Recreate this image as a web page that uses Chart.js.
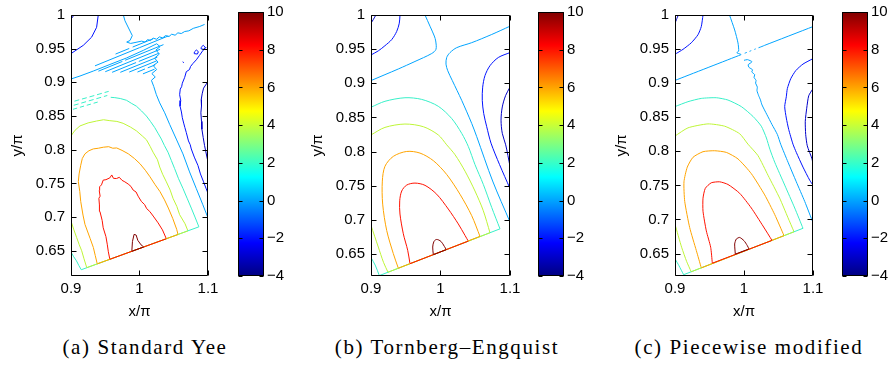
<!DOCTYPE html>
<html>
<head>
<meta charset="utf-8">
<script src="https://cdn.jsdelivr.net/npm/chart.js@4.4.1/dist/chart.umd.min.js"></script>
<style>
  html, body { margin: 0; padding: 0; background: #fff; }
  #page { position: relative; width: 893px; height: 367px; overflow: hidden; }
  #page canvas { position: absolute; top: 0; }
  .cap { position: absolute; top: 335px; line-height: 24px; font-family: "Liberation Serif", "Times New Roman", Times, serif;
         font-size: 21px; letter-spacing: 1.6px; color: #000; white-space: nowrap; transform: translateX(-50%); }
</style>
</head>
<body>
<div id="page">
  <canvas id="plotA" width="230" height="325" style="left:0px"></canvas>
  <canvas id="barA"  width="70"  height="325" style="left:230px"></canvas>
  <canvas id="plotB" width="230" height="325" style="left:300px"></canvas>
  <canvas id="barB"  width="70"  height="325" style="left:530px"></canvas>
  <canvas id="plotC" width="230" height="325" style="left:604px"></canvas>
  <canvas id="barC"  width="59"  height="325" style="left:834px"></canvas>
  <div class="cap" style="left:145px">(a) Standard Yee</div>
  <div class="cap" style="left:447px">(b) Tornberg–Engquist</div>
  <div class="cap" style="left:749px">(c) Piecewise modified</div>
</div>
<script>
// ── axes ───────────────────────────────────────────────────────────
const xTicks   = [0.9, 1, 1.1];
const yTicks   = [0.65, 0.7, 0.75, 0.8, 0.85, 0.9, 0.95, 1];
const barTicks = [-4, -2, 0, 2, 4, 6, 8, 10];
const barRange = [-4, 10];

// jet colormap, position on the bar -> colour
const jetStops = [[0, '#000080'], [0.125, '#0000ff'], [0.375, '#00ffff'],
                  [0.625, '#ffff00'], [0.875, '#ff0000'], [1, '#800000']];
const levelColor = {
  '-3': 'rgb(0,0,200)', '-2': 'rgb(0,18,255)', '0': 'rgb(0,164,255)', '2': 'rgb(55,240,200)',
  '4': 'rgb(190,245,55)', '6': 'rgb(255,164,0)', '8': 'rgb(255,18,0)', '10': 'rgb(128,0,0)'
};

// ── (a) Standard Yee ───────────────────────────────────────────────
const yeeDarkRed = [[0.9888,0.6492],[0.9897,0.6636],[0.9921,0.6743],[0.9951,0.6733],[0.9975,0.6655],[1.0023,0.6587],[1.0062,0.6556]];
const yeeRed = [[0.9567,0.6373],[0.9545,0.6485],[0.9529,0.6597],[0.951,0.671],[0.947,0.6841],[0.9455,0.695],[0.9422,0.7084],
  [0.9415,0.718],[0.9407,0.7279],[0.9425,0.731],[0.9412,0.7395],[0.9418,0.745],[0.9445,0.7478],[0.947,0.7548],[0.951,0.7555],
  [0.9567,0.7582],[0.9595,0.7625],[0.962,0.7575],[0.9664,0.7572],[0.9705,0.759],[0.9745,0.7545],[0.9786,0.7523],[0.9835,0.749],
  [0.9875,0.7455],[0.9907,0.7401],[0.995,0.7372],[0.998,0.731],[1.0028,0.7231],[1.0075,0.7185],[1.0105,0.7125],[1.0149,0.7084],
  [1.02,0.7015],[1.0271,0.6914],[1.0335,0.681],[1.0392,0.6678]];
const yeeOrange = [[0.9383,0.6305],[0.9354,0.643],[0.9326,0.6549],[0.928,0.668],[0.9204,0.6891],[0.9175,0.703],[0.9142,0.7232],
  [0.9128,0.738],[0.9107,0.7525],[0.9118,0.764],[0.9142,0.7769],[0.9165,0.787],[0.9204,0.7939],[0.9262,0.7985],[0.9326,0.8012],
  [0.94,0.8022],[0.9472,0.8037],[0.955,0.8045],[0.961,0.8022],[0.9667,0.8026],[0.9745,0.799],[0.9837,0.7939],[0.9925,0.787],
  [1.0007,0.7792],[1.0085,0.7695],[1.0153,0.7598],[1.0225,0.7485],[1.0299,0.7378],[1.0365,0.7255],[1.0421,0.7134],
  [1.0485,0.698],[1.0543,0.6818],[1.0562,0.6741]];
const yeeYellowLeft = [[0.9,0.694],[0.9042,0.681],[0.9083,0.6695],[0.912,0.659],[0.9156,0.65],[0.919,0.638],[0.923,0.6249]];
const yeeYellow = [[1.0707,0.6795],[1.0665,0.69],[1.0586,0.7035],[1.0545,0.7158],[1.0489,0.7279],[1.0448,0.74],[1.0392,0.7523],
  [1.0338,0.7635],[1.0295,0.7743],[1.0262,0.7852],[1.0198,0.7963],[1.0155,0.805],[1.0101,0.8148],[1.004,0.8205],[0.9955,0.828],
  [0.987,0.8335],[0.9761,0.8392],[0.967,0.842],[0.9567,0.8431],[0.9475,0.8445],[0.9373,0.8426],[0.925,0.8398],[0.9131,0.8353],
  [0.906,0.829],[0.9,0.8206]];
const yeeCyanLeft = [[0.9,0.648],[0.904,0.641],[0.908,0.635],[0.9115,0.628],[0.915,0.6218]];
const yeeCyan = [[1.0867,0.6855],[1.081,0.7],[1.0756,0.7133],[1.0695,0.728],[1.0634,0.7426],[1.057,0.757],[1.0513,0.7719],
  [1.0465,0.784],[1.0416,0.7963],[1.0365,0.806],[1.0319,0.8158],[1.027,0.8245],[1.0222,0.8329],[1.016,0.842],[1.0101,0.85],
  [1.003,0.8575],[0.9955,0.8646],[0.988,0.869],[0.981,0.8734],[0.972,0.876],[0.964,0.8773],[0.958,0.8778]];
const yeeCyanDashes = [[0.905,0.872],[0.912,0.8741],[0.916,null],[0.916,0.8752],[0.923,0.8772],[0.927,null],[0.927,0.8784],[0.934,0.8804],
  [0.938,null],[0.938,0.8816],[0.945,0.8837],[0.949,null],[0.949,0.8849],[0.955,0.8866],[0.9,null],
  [0.904,0.866],[0.911,0.868],[0.915,null],[0.915,0.8692],[0.922,0.8713],[0.926,null],[0.926,0.8725],[0.933,0.8745],[0.937,null],
  [0.937,0.8757],[0.944,0.8778],[0.948,null],[0.948,0.879],[0.953,0.8805],[0.9,null],
  [0.903,0.86],[0.909,0.8618],[0.913,null],[0.913,0.863],[0.919,0.8648],[0.923,null],[0.923,0.866],[0.929,0.8677],[0.933,null],
  [0.933,0.869],[0.939,0.8707]];
const yeeZeroTop = [[0.9764,1.0],[0.9788,0.9914],[0.9847,0.9792],[0.9895,0.9694],[0.9861,0.9621],[0.9813,0.9598],[0.9871,0.9578],
  [1.0032,0.9612],[1.008,0.9598],[1.012,0.9635],[1.016,0.962],[1.02,0.9656],[1.025,0.964],[1.029,0.9675],[1.034,0.966],
  [1.038,0.9695],[1.043,0.968],[1.047,0.9715],[1.052,0.970],[1.056,0.9735],[1.061,0.9725],[1.066,0.9755],[1.072,0.9765],
  [1.0786,0.9802],[1.088,0.983],[1.095,0.986]];
const yeeZeroMain = [[0.9,0.905],[0.9131,0.9094],[0.9326,0.9168],[0.9569,0.9266],[0.9813,0.9363],[1.0056,0.9475],[1.0251,0.9573],
  [1.03,0.953],[1.024,0.948],[1.029,0.942],[1.022,0.936],[1.027,0.93],[1.02,0.925],[1.025,0.919],[1.018,0.913],[1.023,0.908],
  [1.0174,0.903],[1.0208,0.8939],[1.0246,0.8817],[1.0295,0.8695],[1.0368,0.8548],[1.044,0.8377],[1.0537,0.8158],[1.0634,0.7938],
  [1.0731,0.767],[1.0828,0.7426],[1.0925,0.7182],[1.1,0.6987]];
// the numerical ripples of the zero level between the two branches
const yeeStripes = [
  [0.965,0.942],[0.985,0.9503],[0.9,null],[0.99,0.9524],[1.02,0.9648],[0.9,null],
  [0.935,0.9245],[1.0,0.9515],[1.042,0.9689],[0.9,null],
  [0.94,0.9166],[0.975,0.9311],[0.9,null],[0.979,0.9328],[1.035,0.956],[0.9,null],
  [0.95,0.9158],[1.03,0.949],[0.9,null],
  [0.96,0.9149],[0.995,0.9294],[0.9,null],[0.999,0.9311],[1.028,0.9431],[0.9,null],
  [0.972,0.9149],[1.026,0.9373],[0.9,null],
  [0.985,0.9153],[1.025,0.9319],[0.9,null],
  [0.997,0.9153],[1.008,0.9199],[0.9,null],[1.012,0.9215],[1.023,0.926],[0.9,null],
  [1.005,0.9126],[1.022,0.9196]];
const yeeArc = [[0.9398,1.0],[0.9374,0.9817],[0.9301,0.9671],[0.918,0.955],[0.9,0.9427]];
const yeeCorner = [[0.9044,1.0],[0.9,0.9939]];
const yeeBlue = [[1.0974,0.9524],[1.092,0.9465],[1.0877,0.9402],[1.083,0.9335],[1.078,0.928],[1.0745,0.9235],[1.073,0.919],
  [1.0683,0.9158],[1.066,0.9075],[1.0625,0.8987],[1.0615,0.8935],[1.0595,0.89],[1.0586,0.8817],[1.0602,0.873],[1.0592,0.8646],
  [1.0612,0.856],[1.0625,0.8475],[1.0645,0.8395],[1.0662,0.833],[1.0683,0.8255],[1.0715,0.813],[1.074,0.8075],[1.0756,0.8011],
  [1.08,0.789],[1.0853,0.7767],[1.089,0.764],[1.0935,0.7523],[1.097,0.743],[1.1,0.7353]];
const yeeBlueCurls = [[1.08,0.945],[1.083,0.948],[1.086,0.9455],[1.0845,0.942],[1.081,0.9425],[1.08,0.945],[1.0,null],
  [1.09,0.952],[1.093,0.955],[1.096,0.952],[1.094,0.949],[1.091,0.9495],[1.09,0.952],[1.0,null],
  [1.063,0.9305],[1.0648,0.9292]];
const yeeNavy = [[1.1,0.9012],[1.0935,0.8914],[1.0915,0.883],[1.0901,0.8743],[1.0905,0.865],[1.0896,0.8548],[1.0905,0.842],
  [1.0911,0.8304],[1.093,0.818],[1.095,0.806],[1.1,0.7816]];
const yeeEdges = [
  [10, [[0.9888,0.6492],[1.0062,0.6556]]],
  [8,  [[0.9567,0.6373],[1.0392,0.6678]]],
  [6,  [[0.9383,0.6305],[1.0562,0.6741]]],
  [4,  [[0.923,0.6249],[1.0707,0.6795]]],
  [2,  [[0.915,0.6218],[1.0867,0.6855]]]
];
const yeeLines = [[10, yeeDarkRed], [8, yeeRed], [6, yeeOrange], [4, yeeYellowLeft], [4, yeeYellow],
  [2, yeeCyanLeft], [2, yeeCyan], [2, yeeCyanDashes], [0, yeeZeroTop], [0, yeeZeroMain], [0, yeeStripes],
  [-2, yeeArc], [-2, yeeBlue], [-2, yeeBlueCurls], [-3, yeeCorner], [-3, yeeNavy]];

// ── (b) Tornberg–Engquist ──────────────────────────────────────────
const tbeDarkRed = [[0.9897,0.6492],[0.9888,0.6604],[0.9906,0.6686],[0.9945,0.6715],[1.0007,0.6686],[1.0055,0.6614],[1.0084,0.6566]];
const tbeRed = [[0.9561,0.636],[0.9528,0.6556],[0.9465,0.6798],[0.9417,0.7087],[0.9413,0.728],[0.9442,0.7424],[0.9514,0.7511],
  [0.9633,0.754],[0.9777,0.7507],[0.9945,0.7377],[1.0112,0.716],[1.0256,0.6942],[1.0353,0.6773],[1.04,0.669]];
const tbeOrange = [[0.9393,0.6294],[0.9321,0.6508],[0.9226,0.6846],[0.9168,0.7232],[0.9163,0.7569],[0.9201,0.7786],
  [0.9321,0.7931],[0.9514,0.8003],[0.9705,0.7979],[0.9897,0.7868],[1.0089,0.7666],[1.028,0.7377],[1.0449,0.7063],[1.0568,0.676]];
const tbeYellowLeft = [[0.9,0.692],[0.9105,0.6604],[0.918,0.638],[0.9245,0.6235]];
const tbeYellow = [[1.0712,0.6813],[1.0616,0.7135],[1.0496,0.7424],[1.0353,0.7714],[1.0209,0.7955],[1.0089,0.81],
  [0.9968,0.8245],[0.9753,0.8365],[0.9489,0.8404],[0.9201,0.8355],[0.9,0.8245]];
const tbeCyanLeft = [[0.9,0.645],[0.906,0.634],[0.912,0.6186]];
const tbeCyan = [[1.0856,0.687],[1.0737,0.7183],[1.0616,0.7521],[1.0496,0.7811],[1.04,0.8076],[1.0305,0.8268],[1.0161,0.8485],
  [0.9968,0.8664],[0.9729,0.8765],[0.9489,0.8789],[0.9201,0.8737],[0.9,0.865]];
const tbeZeroTop = [[0.9777,1.0],[0.9849,0.9836],[0.9911,0.9692],[0.9931,0.962],[0.9935,0.9498],[0.9873,0.9436],[0.9633,0.932],
  [0.9393,0.921],[0.9201,0.9127],[0.9,0.904]];
const tbeZeroRight = [[1.1,0.9836],[1.0737,0.9715],[1.0449,0.9595],[1.0233,0.9522],[1.0137,0.945],[1.0089,0.9378],[1.0079,0.9281],
  [1.0104,0.9185],[1.017,0.904],[1.0305,0.8751],[1.0449,0.8413],[1.0521,0.822],[1.075,0.757],[1.1,0.697]];
const tbeArc = [[0.9417,1.0],[0.9407,0.988],[0.937,0.976],[0.9298,0.964],[0.92,0.955],[0.9105,0.9475],[0.9,0.9415]];
const tbeCorner = [[0.907,1.0],[0.9035,0.9937],[0.9,0.988]];
const tbeBlue = [[1.1,0.945],[1.0832,0.9378],[1.0712,0.9258],[1.064,0.9113],[1.0607,0.8944],[1.0601,0.8751],[1.0622,0.8557],
  [1.0665,0.8365],[1.0727,0.8124],[1.085,0.781],[1.1,0.746]];
const tbeNavy = [[1.1,0.8944],[1.0938,0.8824],[1.0889,0.8654],[1.0871,0.8461],[1.0889,0.8268],[1.0938,0.81],[1.1,0.7786]];
const tbeEdges = [
  [10, [[0.9897,0.6492],[1.0084,0.6566]]],
  [8,  [[0.9561,0.636],[1.04,0.669]]],
  [6,  [[0.9393,0.6294],[1.0568,0.676]]],
  [4,  [[0.9245,0.6235],[1.0712,0.6813]]],
  [2,  [[0.912,0.6186],[1.0856,0.687]]]
];
const tbeLines = [[10, tbeDarkRed], [8, tbeRed], [6, tbeOrange], [4, tbeYellowLeft], [4, tbeYellow],
  [2, tbeCyanLeft], [2, tbeCyan], [0, tbeZeroTop], [0, tbeZeroRight], [-2, tbeArc], [-2, tbeBlue],
  [-3, tbeCorner], [-3, tbeNavy]];

// ── (c) Piecewise modified ─────────────────────────────────────────
const pwmDarkRed = [[0.9874,0.6491],[0.9865,0.664],[0.9888,0.6712],[0.9937,0.6736],[1.0,0.6688],[1.0048,0.6616],[1.0072,0.6567]];
const pwmRed = [[0.9541,0.6358],[0.9517,0.6592],[0.9454,0.6832],[0.9406,0.712],[0.9406,0.7312],[0.9439,0.7456],[0.9526,0.7538],
  [0.9648,0.7552],[0.9768,0.7513],[0.9937,0.7384],[1.0106,0.7168],[1.0275,0.6904],[1.0406,0.6692]];
const pwmOrange = [[0.9381,0.6289],[0.9309,0.6544],[0.9213,0.688],[0.9141,0.7264],[0.913,0.7552],[0.9178,0.7768],[0.9261,0.7912],
  [0.9406,0.7994],[0.9575,0.8008],[0.9744,0.7984],[0.9913,0.7888],[1.0106,0.7672],[1.03,0.736],[1.0445,0.7072],[1.058,0.6762]];
const pwmYellowLeft = [[0.9,0.6928],[0.9096,0.6592],[0.9170,0.638],[0.9235,0.6232]];
const pwmYellow = [[1.0725,0.6819],[1.0638,0.7024],[1.0517,0.7312],[1.0348,0.7648],[1.0203,0.7936],[1.0058,0.8104],
  [0.9937,0.8258],[0.972,0.8368],[0.9478,0.8402],[0.9188,0.8344],[0.9,0.8224]];
const pwmCyanLeft = [[0.9,0.6424],[0.9058,0.632],[0.9125,0.6189]];
const pwmCyan = [[1.0855,0.687],[1.0735,0.7168],[1.059,0.7504],[1.0445,0.784],[1.0375,0.803],[1.0325,0.8195],[1.0251,0.8368],
  [1.013,0.8512],[0.9961,0.8656],[0.9768,0.8752],[0.9599,0.8786],[0.9381,0.8776],[0.9188,0.8728],[0.9,0.8656]];
const pwmZeroTop = [[0.979,1.0],[0.9865,0.978],[0.9913,0.959],[0.9923,0.947],[0.9895,0.9445],[0.9952,0.9425]];
const pwmZeroDiag = [[0.9,0.904],[0.996,0.9419],[1.0,null],[1.001,0.9439],[1.004,0.9451],[1.0,null],[1.008,0.9467],[1.0105,0.9477],
  [1.0,null],[1.015,0.9495],[1.017,0.9503],[1.0,null],[1.021,0.9519],[1.026,0.9538],[1.03,0.9555],[1.1,0.983]];
const pwmZeroRight = [[1.0,0.9335],[1.005,0.9345],[1.0116,0.9313],[1.006,0.927],[1.0072,0.9232],[1.0125,0.9195],[1.0112,0.9165],
  [1.0155,0.9125],[1.0145,0.9085],[1.0175,0.904],[1.0168,0.9],[1.0193,0.8944],[1.0188,0.889],[1.0213,0.8815],[1.0238,0.8755],
  [1.0261,0.868],[1.0333,0.8536],[1.0406,0.8392],[1.0483,0.8248],[1.0532,0.8103],[1.0638,0.784],[1.0758,0.7552],
  [1.088,0.7264],[1.1,0.6952]];
const pwmArc = [[0.9406,1.0],[0.9381,0.983],[0.9333,0.971],[0.9236,0.9592],[0.9116,0.9496],[0.9,0.9424]];
const pwmCorner = [[0.9048,1.0],[0.9022,0.9935],[0.9,0.988]];
const pwmBlue = [[1.1,0.936],[1.0855,0.928],[1.075,0.9184],[1.0677,0.9064],[1.0628,0.892],[1.0613,0.88],[1.059,0.8656],
  [1.0613,0.8488],[1.0648,0.832],[1.071,0.8104],[1.0758,0.7984],[1.0855,0.7768],[1.0952,0.7576],[1.1,0.7504]];
const pwmNavy = [[1.1,0.892],[1.0938,0.8815],[1.0909,0.8632],[1.0888,0.844],[1.0894,0.8248],[1.0917,0.808],[1.0986,0.7888],[1.1,0.779]];
const pwmEdges = [
  [10, [[0.9874,0.6491],[1.0072,0.6567]]],
  [8,  [[0.9541,0.6358],[1.0406,0.6692]]],
  [6,  [[0.9381,0.6289],[1.058,0.6762]]],
  [4,  [[0.9235,0.6232],[1.0725,0.6819]]],
  [2,  [[0.9125,0.6189],[1.0855,0.687]]]
];
const pwmLines = [[10, pwmDarkRed], [8, pwmRed], [6, pwmOrange], [4, pwmYellowLeft], [4, pwmYellow],
  [2, pwmCyanLeft], [2, pwmCyan], [0, pwmZeroTop], [0, pwmZeroDiag], [0, pwmZeroRight], [-2, pwmArc], [-2, pwmBlue],
  [-3, pwmCorner], [-3, pwmNavy]];

// ── common stuff ───────────────────────────────────────────────────
Chart.defaults.font.family = 'Arial, "Liberation Sans", Helvetica, sans-serif';
Chart.defaults.font.size = 15;
Chart.defaults.color = '#000';
Chart.defaults.animation = false;

// box round the axes plus MATLAB-style ticks pointing inwards
const frame = {
  id: 'frame',
  afterDatasetsDraw(chart, args, o) {
    const { ctx, chartArea: a, scales } = chart;
    const L = Math.round(a.left) + 0.5, R = Math.round(a.right) - 0.5;
    const T = Math.round(a.top) + 0.5,  B = Math.round(a.bottom) - 0.5;
    ctx.save();
    ctx.strokeStyle = '#000';
    ctx.lineWidth = 1;
    ctx.beginPath();
    ctx.rect(L, T, R - L, B - T);
    scales.y.ticks.forEach(t => {
      const py = Math.round(scales.y.getPixelForValue(t.value)) + 0.5;
      ctx.moveTo(L, py); ctx.lineTo(L + o.len, py);
      ctx.moveTo(R, py); ctx.lineTo(R - o.len, py);
    });
    if (o.xTicks) scales.x.ticks.forEach(t => {
      const px = Math.round(scales.x.getPixelForValue(t.value)) + 0.5;
      ctx.moveTo(px, B); ctx.lineTo(px, B - o.len);
      ctx.moveTo(px, T); ctx.lineTo(px, T + o.len);
    });
    ctx.stroke();
    ctx.restore();
  }
};

const toPts = arr => arr.map(p => ({ x: p[0], y: p[1] }));

function lineSet(level, arr, tension) {
  return {
    data: toPts(arr), borderColor: levelColor[level], borderWidth: 1,
    pointRadius: 0, showLine: true, tension: tension, spanGaps: false
  };
}

function drawContours(id, lines, edges, yMin, pad, tension) {
  // edges first so that they end up on top (dataset 0 is painted last)
  const datasets = edges.map(([lv, seg]) => lineSet(lv, seg, 0))
    .concat(lines.map(([lv, arr]) => lineSet(lv, arr, tension)));

  new Chart(document.getElementById(id), {
    type: 'scatter',
    data: { datasets },
    plugins: [frame],
    options: {
      responsive: false,
      events: [],
      layout: { padding: { top: pad.top, right: pad.right, left: 0, bottom: 0 } },
      plugins: { legend: { display: false }, tooltip: { enabled: false }, frame: { len: 5, xTicks: true } },
      scales: {
        x: {
          type: 'linear', min: 0.9, max: 1.1,
          afterBuildTicks: s => { s.ticks = xTicks.map(v => ({ value: v })); },
          afterFit: s => { s.height = 49; },
          grid: { display: false, drawTicks: false }, border: { display: false },
          ticks: { padding: 4, autoSkip: false, maxRotation: 0, callback: v => String(v) },
          title: { display: true, text: 'x/π', padding: { top: 0, bottom: 4 } }
        },
        y: {
          type: 'linear', min: yMin, max: 1,
          afterBuildTicks: s => { s.ticks = yTicks.map(v => ({ value: v })); },
          afterFit: s => { s.width = 71; },
          grid: { display: false, drawTicks: false }, border: { display: false },
          ticks: { padding: 6, autoSkip: false, callback: v => String(v) },
          title: { display: true, text: 'y/π', padding: { top: 9, bottom: 0 } }
        }
      }
    }
  });
}

function drawColorbar(id, top, axisWidth) {
  new Chart(document.getElementById(id), {
    type: 'bar',
    data: {
      labels: [''],
      datasets: [{
        data: [barRange],
        barPercentage: 1, categoryPercentage: 1, borderWidth: 0,
        backgroundColor: c => {
          const { chart } = c;
          if (!chart.chartArea) return '#00a4ff';
          const y = chart.scales.y;
          const g = chart.ctx.createLinearGradient(0, y.getPixelForValue(barRange[0]), 0, y.getPixelForValue(barRange[1]));
          jetStops.forEach(([t, col]) => g.addColorStop(t, col));
          return g;
        }
      }]
    },
    plugins: [frame],
    options: {
      responsive: false,
      events: [],
      layout: { padding: { top: top, bottom: 49, left: 8, right: 0 } },
      plugins: { legend: { display: false }, tooltip: { enabled: false }, frame: { len: 4, xTicks: false } },
      scales: {
        x: { display: false },
        y: {
          position: 'right', min: barRange[0], max: barRange[1],
          afterBuildTicks: s => { s.ticks = barTicks.map(v => ({ value: v })); },
          afterFit: s => { s.width = axisWidth; },
          grid: { display: false, drawTicks: false }, border: { display: false },
          ticks: { padding: 3, autoSkip: false, callback: v => (v < 0 ? '\u2212' + Math.abs(v) : String(v)) }
        }
      }
    }
  });
}

drawContours('plotA', yeeLines, yeeEdges, 0.6125, { top: 11, right: 22 }, 0);
drawContours('plotB', tbeLines, tbeEdges, 0.618,  { top: 12, right: 20 }, 0.3);
drawContours('plotC', pwmLines, pwmEdges, 0.617,  { top: 10, right: 21 }, 0.2);

drawColorbar('barA', 11, 36);
drawColorbar('barB', 12, 36);
drawColorbar('barC', 10, 25);
</script>
</body>
</html>
